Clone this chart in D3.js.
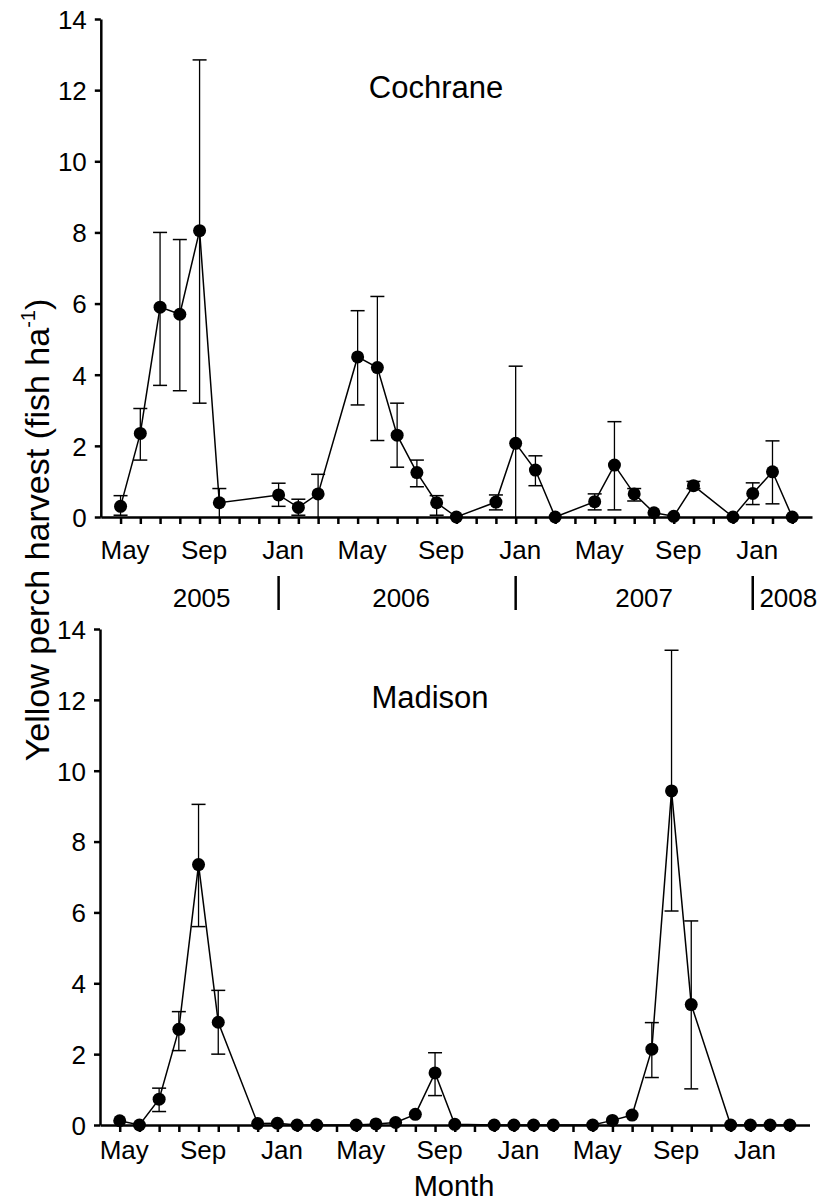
<!DOCTYPE html>
<html>
<head>
<meta charset="utf-8">
<script src="https://cdn.jsdelivr.net/npm/d3@7"></script>
<style>
  body { margin: 0; background: #fff; }
  svg text { font-family: "Liberation Sans", Arial, sans-serif; fill: #000; }
  .axis path, .axis line { stroke: #000; stroke-width: 2.5; }
  .axis text { font-size: 26px; font-family: "Liberation Sans", Arial, sans-serif; fill: #000; }
</style>
</head>
<body>
<div id="chart-holder"></div>
<script>
// month index 0 = May 2005 ... 34 = Mar 2008
var months = d3.range(0, 35);
var monthNames = ["May", "Jun", "Jul", "Aug", "Sep", "Oct", "Nov", "Dec", "Jan", "Feb", "Mar", "Apr"];

// Cochrane: mean harvest (fish/ha) and error bar ends, null = not sampled
var cochraneMean = [0.3, 2.35, 5.9, 5.7, 8.05, 0.4, null, null, 0.62, 0.27, 0.65, null,
  4.5, 4.2, 2.3, 1.25, 0.4, 0.0, null, 0.42, 2.07, 1.32, 0.0, null,
  0.43, 1.46, 0.65, 0.12, 0.02, 0.88, null, 0.0, 0.66, 1.27, 0.0];
var cochraneLow = [0.05, 1.6, 3.7, 3.55, 3.2, 0.0, null, null, 0.3, 0.05, 0.0, null,
  3.15, 2.15, 1.4, 0.85, 0.05, null, null, 0.2, 0.0, 0.88, null, null,
  0.2, 0.2, 0.45, null, null, 0.8, null, null, 0.35, 0.37, null];
var cochraneHigh = [0.6, 3.05, 8.0, 7.8, 12.85, 0.8, null, null, 0.95, 0.5, 1.2, null,
  5.8, 6.2, 3.2, 1.6, 0.6, null, null, 0.62, 4.24, 1.72, null, null,
  0.65, 2.68, 0.8, null, null, 1.0, null, null, 0.96, 2.14, null];

// Madison
var madisonMean = [0.12, 0.0, 0.73, 2.7, 7.35, 2.9, null, 0.04, 0.05, 0.0, 0.0, null,
  0.0, 0.03, 0.07, 0.3, 1.47, 0.02, null, 0.0, 0.0, 0.0, 0.0, null,
  0.0, 0.13, 0.28, 2.14, 9.43, 3.4, null, 0.0, 0.0, 0.0, 0.0];
var madisonLow = [null, null, 0.38, 2.1, 5.6, 2.0, null, null, null, null, null, null,
  null, null, null, null, 0.83, null, null, null, null, null, null, null,
  null, null, null, 1.34, 6.04, 1.02, null, null, null, null, null];
var madisonHigh = [null, null, 1.04, 3.2, 9.05, 3.8, null, null, null, null, null, null,
  null, null, null, null, 2.04, null, null, null, null, null, null, null,
  null, null, null, 2.89, 13.4, 5.76, null, null, null, null, null];

var yTicks = [0, 2, 4, 6, 8, 10, 12, 14];
// year labels and the breaks between years, in month index units
var yearLabels = ["2005", "2006", "2007", "2008"];
var yearLabelAt = [3.9, 14.0, 26.3, 33.6];
var yearBreaks = [8, 20, 32];

var svg = d3.select("#chart-holder")
  .append("svg")
  .attr('width', 824)
  .attr('height', 1201);

// build one panel
function drawPanel(opts) {
  var x = d3.scaleLinear().domain([-1, 35]).range(opts.xRange);
  var y = d3.scaleLinear().domain([0, 14]).range(opts.yRange);
  var g = svg.append("g");

  var rows = months.map(function(m) {
    return { m: m, v: opts.mean[m], lo: opts.low[m], hi: opts.high[m] };
  }).filter(function(d) { return d.v !== null; });

  // error bars
  var bars = rows.filter(function(d) { return d.hi !== null; });
  g.selectAll("line.err")
    .data(bars)
    .enter()
    .append("line")
    .attr('class', 'err')
    .attr('x1', function(d) { return x(d.m); })
    .attr('x2', function(d) { return x(d.m); })
    .attr('y1', function(d) { return y(d.lo); })
    .attr('y2', function(d) { return y(d.hi); })
    .attr('stroke', '#000')
    .attr('stroke-width', 1.3);
  var caps = [];
  bars.forEach(function(d) {
    caps.push({ m: d.m, val: d.hi });
    if (d.lo > 0) caps.push({ m: d.m, val: d.lo });
  });
  g.selectAll("line.cap")
    .data(caps)
    .enter()
    .append("line")
    .attr('class', 'cap')
    .attr('x1', function(d) { return x(d.m) - 7; })
    .attr('x2', function(d) { return x(d.m) + 7; })
    .attr('y1', function(d) { return y(d.val); })
    .attr('y2', function(d) { return y(d.val); })
    .attr('stroke', '#000')
    .attr('stroke-width', 1.5);

  // axes
  var xAxis = d3.axisBottom(x)
    .tickValues(months)
    .tickSize(7)
    .tickSizeOuter(0)
    .tickFormat(function(m) { return m % 4 === 0 ? monthNames[m % 12] : ""; });
  var gx = g.append("g")
    .attr('class', 'axis')
    .attr('transform', 'translate(0,' + opts.yRange[0] + ')')
    .call(xAxis);
  gx.selectAll("text")
    .attr('dx', 4)
    .attr('y', opts.labelGap)
    .attr('dy', 0)
    .style('font-size', '26px');

  var yAxis = d3.axisLeft(y)
    .tickValues(yTicks)
    .tickSize(6)
    .tickSizeOuter(0)
    .tickPadding(8);
  var gy = g.append("g")
    .attr('class', 'axis')
    .attr('transform', 'translate(' + x(-1) + ',0)')
    .call(yAxis);
  gy.selectAll("text").attr('dy', '0.36em');

  // data line and points
  var line = d3.line()
    .x(function(d) { return x(d.m); })
    .y(function(d) { return y(d.v); });
  g.append("path")
    .datum(rows)
    .attr('d', line)
    .attr('fill', 'none')
    .attr('stroke', '#000')
    .attr('stroke-width', 1.5);
  g.selectAll("circle")
    .data(rows)
    .enter()
    .append("circle")
    .attr('cx', function(d) { return x(d.m); })
    .attr('cy', function(d) { return y(d.v); })
    .attr('r', 6.5)
    .attr('fill', '#000');

  // lake name
  g.append("text")
    .attr('x', opts.titleX)
    .attr('y', opts.titleY)
    .attr('text-anchor', 'middle')
    .style('font-size', '31px')
    .text(opts.title);

  return x;
}

var xTop = drawPanel({
  title: "Cochrane", titleX: 436, titleY: 98,
  mean: cochraneMean, low: cochraneLow, high: cochraneHigh,
  xRange: [100.8, 812], yRange: [517, 19], labelGap: 42
});

drawPanel({
  title: "Madison", titleX: 430, titleY: 708,
  mean: madisonMean, low: madisonLow, high: madisonHigh,
  xRange: [100, 809.5], yRange: [1125, 629], labelGap: 34
});

// year row under the top panel
svg.selectAll("text.year")
  .data(yearLabels)
  .enter()
  .append("text")
  .attr('class', 'year')
  .attr('x', function(d, i) { return xTop(yearLabelAt[i]) + 4; })
  .attr('y', 607)
  .attr('text-anchor', 'middle')
  .style('font-size', '26px')
  .text(function(d) { return d; });
svg.selectAll("line.year-break")
  .data(yearBreaks)
  .enter()
  .append("line")
  .attr('class', 'year-break')
  .attr('x1', function(d) { return xTop(d); })
  .attr('x2', function(d) { return xTop(d); })
  .attr('y1', 576)
  .attr('y2', 610)
  .attr('stroke', '#000')
  .attr('stroke-width', 2.5);

// axis titles
var yTitle = svg.append("text")
  .attr('transform', 'translate(49,530) rotate(-90)')
  .attr('text-anchor', 'middle')
  .style('font-size', '34px');
yTitle.append("tspan").text("Yellow perch harvest (fish ha");
yTitle.append("tspan")
  .attr('dy', -14)
  .style('font-size', '20px')
  .text("-1");
yTitle.append("tspan")
  .attr('dy', 14)
  .text(")");

svg.append("text")
  .attr('x', 454)
  .attr('y', 1196)
  .attr('text-anchor', 'middle')
  .style('font-size', '29px')
  .text("Month");
</script>
</body>
</html>
